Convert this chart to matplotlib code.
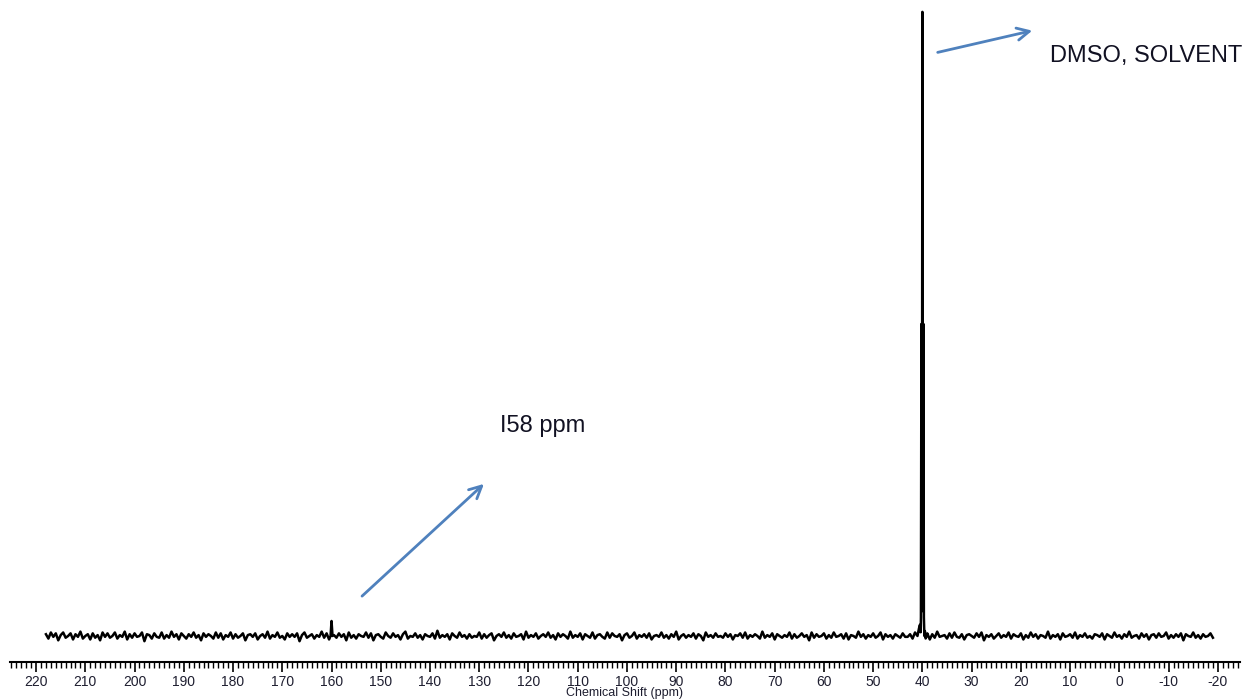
import numpy as np
import matplotlib
matplotlib.use("Agg")
import matplotlib.pyplot as plt
from matplotlib.ticker import MultipleLocator

plt.rcParams["font.family"] = ["Liberation Sans", "DejaVu Sans"]
plt.rcParams["axes.unicode_minus"] = False

# baseline noise, tenths of a percent of the solvent line, every 0.5 ppm from 218 to -19 ppm
noise = [
    2, -3, 4, -1, 3, -5, 1, 4, -2, 0, 3, -4, 2, -1, 5, -3, 0, 2, -4, 3, -2, 1, -5, 4, -1,
    3, -2, 0, 4, -3, 1, -1, 5, -4, 2, -2, 3, -1, 0, 4, -6, 2, 1, -3, 3, -1, -2, 4, -3, 1,
    -2, 5, -1, 2, -4, 3, 0, -3, 2, -1, 4, -2, 1, -5, 3, -1, 2, 0, -3, 4, -2, 3, -4, 1, -1,
    4, -3, 2, -2, 0, 3, -5, 1, 2, -1, 3, -4, 0, 2, -2, 5, -3, 1, -1, 4, -2, 0, -4, 3, -1,
    2, -1, 3, -6, 1, 4, -2, 0, 2, -3, 1, -1, 5, -2, 3, -4, 0, 1, -2, 3, -1, 2, -5, 4, -2,
    1, -3, 2, 0, -1, 4, -2, 3, -5, 1, 2, -1, -3, 4, 0, -2, 3, -1, 1, -4, 2, 5, -3, 0, -1,
    3, -2, 1, -4, 2, 0, -1, 3, -3, 6, -2, 1, -1, 2, -4, 3, 0, -2, 4, -1, 1, -3, 2, -2, 0,
    -1, 4, -3, 2, -2, 1, 3, -5, 0, 2, -1, 4, -2, 1, -3, 3, -1, 0, 2, -4, 5, -2, 1, -1, 3,
    -3, 0, 2, -1, 4, -2, 1, -4, 3, -1, 2, 0, -3, 5, -2, 1, -1, 3, -4, 2, 0, -2, 4, -3, 1,
    2, -1, -3, 4, -2, 3, 0, -1, 2, -5, 1, 3, -2, 0, 4, -3, 1, -1, 2, -2, 3, -4, 0, 1, -1,
    4, -2, 1, -3, 2, -1, 5, -4, 0, 2, -2, 1, -1, 3, -3, 2, 0, -5, 4, -1, 1, -2, 3, -1, 0,
    -2, 3, -1, 2, -4, 1, 0, 3, -2, 4, -3, 1, -1, 2, 0, -3, 5, -2, 1, -1, 3, -4, 2, 0, -2,
    1, -1, 4, -3, 2, -2, 0, 3, -1, 1, -5, 4, -2, 2, -1, 0, 3, -3, 1, -2, 4, -1, 0, 2, -3,
    3, -4, 1, 0, -2, 5, -1, 2, -3, 1, -1, 3, -2, 0, 4, -4, 2, -1, 1, -3, 2, 0, -2, 3, -1,
    -1, 2, -3, 4, 0, -2, 1, -1, 3, -4, 2, -2, 5, -1, 0, 1, -3, 3, -2, 4, -1, -2, 2, -4, 1,
    2, 0, -2, 3, -1, 4, -5, 1, -1, 2, -3, 0, 3, -2, 1, -1, 4, -3, 2, 0, -1, 3, -4, 1, -2,
    4, -1, 2, -3, 1, 0, -2, 5, -3, 1, -1, 2, -4, 3, -1, 0, 2, -2, 4, -3, 1, -1, 3, -2, 0,
    -3, 2, 1, -1, 3, -4, 2, 0, -2, 4, -1, 1, -3, 2, -1, 5, -2, 0, 1, -3, 3, -1, 2, -4, 1,
    2, -2, 3, -1, 0, 4, -3, 1, -2, 2, -1, 3, -5, 2, 0, -1, 4, -2, 1, -3, 2, -1, 0, 3, -2,
]
noise_start, noise_end = 218.0, -19.0

# 13C signal at 160 ppm
c160_shift = [160.2, 160.0, 159.8]
c160_int = [0.0, 2.4, 0.0]

# DMSO-d6 septet around 40 ppm
dmso_shift = [41.0, 40.7, 40.5, 40.35, 40.3, 40.2, 40.1, 40.0, 39.9, 39.8, 39.7, 39.6, 39.5, 39.35, 39.1]
dmso_int = [0.0, 1.2, 1.8, 0.6, 3.0, 50.0, 4.0, 100.0, 4.0, 50.0, 3.0, 0.0, 0.8, -0.4, 0.0]

# assemble the trace: noise outside the peak windows, peak points inside
n_shift = np.linspace(noise_start, noise_end, len(noise))
n_int = np.array(noise) * 0.14
keep = ~(((n_shift <= max(c160_shift)) & (n_shift >= min(c160_shift))) |
         ((n_shift <= max(dmso_shift)) & (n_shift >= min(dmso_shift))))
x = np.concatenate([n_shift[keep], c160_shift, dmso_shift])
y = np.concatenate([n_int[keep], c160_int, dmso_int])
order = np.argsort(-x)
x, y = x[order], y[order]

W, H = 1244, 700
fig = plt.figure(figsize=(W / 100, H / 100), dpi=100)
ax = fig.add_axes([10 / W, 38 / H, 1230 / W, 652 / H])
ax.plot(x, y, color="black", lw=1.8)

ax.set_xlim(225.3, -24.5)
ax.set_ylim(-4.17, 100.3)
for s in ("top", "right", "left"):
    ax.spines[s].set_visible(False)
ax.spines["bottom"].set_linewidth(1.5)
ax.set_yticks([])
ax.xaxis.set_major_locator(MultipleLocator(10))
ax.xaxis.set_minor_locator(MultipleLocator(1))
ax.tick_params(axis="x", which="major", length=7, width=1.2, pad=2, labelsize=10, labelcolor="#1e1e30")
ax.tick_params(axis="x", which="minor", length=4, width=1.0)
ax.set_xlabel("Chemical Shift (ppm)", fontsize=9, labelpad=-1, color="#1e1e30")

blue = "#4f81bd"
ax.annotate("", xy=(1035, H - 30), xytext=(935, H - 53), xycoords="figure pixels",
            textcoords="figure pixels",
            arrowprops=dict(arrowstyle="->", color=blue, lw=2, mutation_scale=22))
ax.annotate("", xy=(486, H - 482), xytext=(360, H - 598), xycoords="figure pixels",
            textcoords="figure pixels",
            arrowprops=dict(arrowstyle="->", color=blue, lw=2, mutation_scale=22))

fig.text(1050 / W, (H - 62) / H, "DMSO, SOLVENT", fontsize=17, color="#111122", va="baseline")
fig.text(500 / W, (H - 432) / H, "I58 ppm", fontsize=17, color="#111122", va="baseline")

fig.savefig("out.png", dpi=100)
